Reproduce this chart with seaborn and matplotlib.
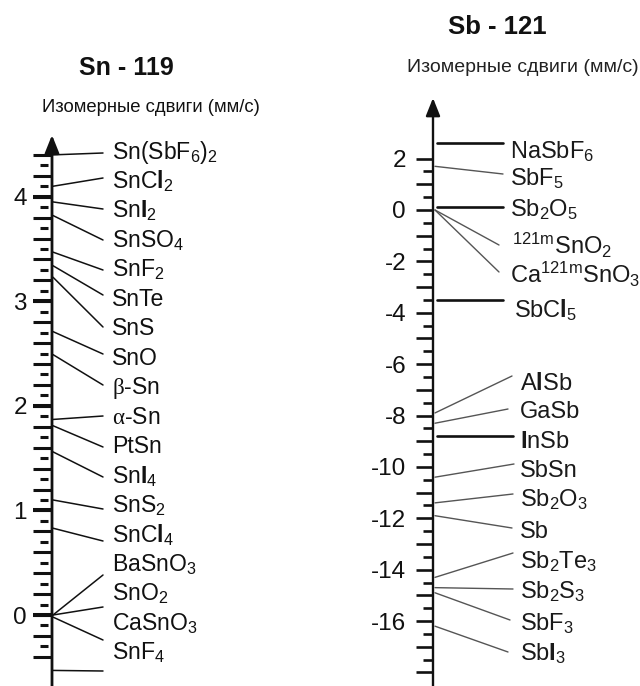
import numpy as np
import pandas as pd
import matplotlib
matplotlib.use("Agg")
import matplotlib.pyplot as plt
import seaborn as sns

# ---- Sn-119: isomer shifts (mm/s) ----
sn_labels = [
    r"$\mathrm{Sn(SbF_6)_2}$", r"$\mathrm{SnC}\mathbf{l}_2$", r"$\mathrm{Sn}\mathbf{I}_2$",
    r"$\mathrm{SnSO_4}$", r"$\mathrm{SnF_2}$", "SnTe", "SnS", "SnO",
    r"$\mathsf{β}$-Sn", r"$\mathsf{α}$-Sn", "PtSn", r"$\mathrm{Sn}\mathbf{I}_4$",
    r"$\mathrm{SnS_2}$", r"$\mathrm{SnC}\mathbf{l}_4$", r"$\mathrm{BaSnO_3}$",
    r"$\mathrm{SnO_2}$", r"$\mathrm{CaSnO_3}$", r"$\mathrm{SnF_4}$",
]
sn_shift = [4.40, 4.10, 3.95, 3.82, 3.47, 3.34, 3.23, 2.71, 2.49, 1.87,
            1.81, 1.56, 1.10, 0.83, 0.00, 0.00, -0.02, -0.53]
sn_ticklabels = [0, 1, 2, 3, 4]

# ---- Sb-121: isomer shifts (mm/s) ----
sb_labels = [
    r"$\mathrm{NaSbF_6}$", r"$\mathrm{SbF_5}$", r"$\mathrm{Sb_2O_5}$",
    r"${}^{\mathrm{121m}}\mathrm{SnO_2}$", r"$\mathrm{Ca^{121m}SnO_3}$",
    r"$\mathrm{SbC}\mathbf{l}_5$", r"$\mathrm{A}\mathbf{l}\mathrm{Sb}$", "GaSb",
    r"$\mathbf{I}\mathrm{nSb}$", "SbSn", r"$\mathrm{Sb_2O_3}$", "Sb",
    r"$\mathrm{Sb_2Te_3}$", r"$\mathrm{Sb_2S_3}$", r"$\mathrm{SbF_3}$",
    r"$\mathrm{Sb}\mathbf{I}_3$",
]
sb_shift = [2.6, 1.7, 0.1, 0.0, 0.0, -3.5, -7.9, -8.3, -8.8, -10.4,
            -11.4, -11.9, -14.3, -14.7, -14.9, -16.2]
sb_ticklabels = [2, 0, -2, -4, -6, -8, -10, -12, -14, -16]

# ---- layout (pixels from the top-left corner of the figure) ----
W, H = 640, 686
INK = "#111111"

sn_axis_x, sn_zero_px, sn_px_per_unit = 52, 615, 104.575
sn_label_x, sn_line_end_x = 112, 103
sn_baseline = [158.5 + 29.47 * k for k in range(len(sn_labels))]
sn_line_end_y = [153, 178, 209, 240, 270, 295, 327, 354, 385, 416,
                 447, 477, 509, 541, 575, 607, 640, 671]

sb_axis_x, sb_zero_px, sb_px_per_unit = 433, 210, 25.69
sb_label_x = [510, 510, 510, 512, 510, 514] + [520] * 10
sb_line_end_x = [503, 503, 503, 499, 499, 503, 512, 508, 513, 514,
                 513, 512, 513, 513, 510, 508]
sb_baseline = [158, 185, 216.5, 254, 283, 317, 390, 418.5, 448, 476.5,
               506.5, 538, 568, 598, 630, 660]
sb_line_end_y = [None, 174, None, 245, 272, None, 376, 409, None, 464,
                 494, 528, 553, 589, 620, 652]
sb_heavy = [True, False, True, False, False, True, False, False, True,
            False, False, False, False, False, False, False]

sns.set_theme(style="white")
plt.rcParams["font.family"] = ["Liberation Sans", "DejaVu Sans"]
plt.rcParams["mathtext.fontset"] = "custom"
plt.rcParams["mathtext.rm"] = "Liberation Sans"
plt.rcParams["mathtext.it"] = "Liberation Sans:italic"
plt.rcParams["mathtext.bf"] = "Liberation Sans:bold"
plt.rcParams["mathtext.sf"] = "Liberation Serif"

fig = plt.figure(figsize=(W / 100, H / 100), dpi=100)
ax_sn = fig.add_axes([0, 0, 0.5, 1])
ax_sb = fig.add_axes([0.5, 0, 0.5, 1])


def set_scale(ax, x0, x1, zero_px, ppu):
    ax.set_xlim(x0, x1)
    ax.set_ylim(-(H - zero_px) / ppu, zero_px / ppu)
    ax.set_axis_off()


def val(ax, y_px):
    lo, hi = ax.get_ylim()
    return hi - (hi - lo) * y_px / H


def connectors(ax, x0, values, x1, ends, color, lw):
    rows = []
    for i, (v, xe, ye) in enumerate(zip(values, x1, ends)):
        yv = v if ye is None else val(ax, ye)
        rows.append({"seg": i, "x": x0, "y": v})
        rows.append({"seg": i, "x": xe, "y": yv})
    if not rows:
        return
    df = pd.DataFrame(rows)
    sns.lineplot(data=df, x="x", y="y", units="seg", estimator=None,
                 sort=False, color=color, lw=lw, ax=ax, legend=False)


def draw_axis(ax, x, top_val, lw):
    lo, _ = ax.get_ylim()
    ax.annotate("", xy=(x, top_val), xytext=(x, lo),
                arrowprops=dict(arrowstyle="-|>,head_length=0.9,head_width=0.36",
                                lw=lw, color=INK, shrinkA=0, shrinkB=0))


# ---------------- Sn-119 panel ----------------
set_scale(ax_sn, 0, 320, sn_zero_px, sn_px_per_unit)
draw_axis(ax_sn, sn_axis_x, val(ax_sn, 135), 2.0)
major = np.round(np.arange(-0.4, 4.41, 0.2), 1)
minor = np.round(np.arange(-0.3, 4.31, 0.2), 1)
ax_sn.hlines(major, 33, sn_axis_x, color=INK, lw=2.2)
ax_sn.hlines(minor, 40, 48, color=INK, lw=2.2)
ax_sn.hlines(sn_ticklabels, 33, sn_axis_x, color=INK, lw=2.9)
for t in sn_ticklabels:
    ax_sn.text(27, t, f"{t}", ha="right", va="center_baseline", fontsize=17.5, color=INK)

connectors(ax_sn, sn_axis_x + 1, sn_shift, [sn_line_end_x] * len(sn_shift),
           sn_line_end_y, INK, 1.1)
for lab, b in zip(sn_labels, sn_baseline):
    ax_sn.text(sn_label_x, val(ax_sn, b), lab, ha="left", va="baseline",
               fontsize=16.6, color=INK)

ax_sn.text(126, val(ax_sn, 68), "Sn - 119", ha="center", va="center",
           fontsize=18, fontweight="bold", color=INK)
ax_sn.text(151, val(ax_sn, 108), "Изомерные сдвиги (мм/с)", ha="center",
           va="center", fontsize=13.3, color=INK)

# ---------------- Sb-121 panel ----------------
set_scale(ax_sb, 320, 640, sb_zero_px, sb_px_per_unit)
draw_axis(ax_sb, sb_axis_x, val(ax_sb, 98), 1.7)
major = np.arange(-18, 2.1, 1.0)
minor = np.arange(-17.5, 1.6, 1.0)
ax_sb.hlines(major, 416, sb_axis_x, color=INK, lw=1.9)
ax_sb.hlines(minor, 423, sb_axis_x, color=INK, lw=1.9)
for t in sb_ticklabels:
    ax_sb.text(406, t, f"{t}", ha="right", va="center_baseline",
               fontsize=17.5, color=INK)

heavy_idx = [i for i, h in enumerate(sb_heavy) if h]
light_idx = [i for i, h in enumerate(sb_heavy) if not h]
connectors(ax_sb, sb_axis_x + 4, [sb_shift[i] for i in heavy_idx],
           [sb_line_end_x[i] for i in heavy_idx],
           [sb_line_end_y[i] for i in heavy_idx], INK, 1.9)
connectors(ax_sb, sb_axis_x + 2, [sb_shift[i] for i in light_idx],
           [sb_line_end_x[i] for i in light_idx],
           [sb_line_end_y[i] for i in light_idx], "#555555", 1.0)
for lab, b, x in zip(sb_labels, sb_baseline, sb_label_x):
    ax_sb.text(x, val(ax_sb, b), lab, ha="left", va="baseline",
               fontsize=17, color="#1a1a1a")

ax_sb.text(497, val(ax_sb, 27), "Sb - 121", ha="center", va="center",
           fontsize=18.5, fontweight="bold", color=INK)
ax_sb.text(523, val(ax_sb, 68), "Изомерные сдвиги (мм/с)", ha="center",
           va="center", fontsize=14, color="#222222")

fig.savefig("out.png", dpi=100, facecolor="white")
